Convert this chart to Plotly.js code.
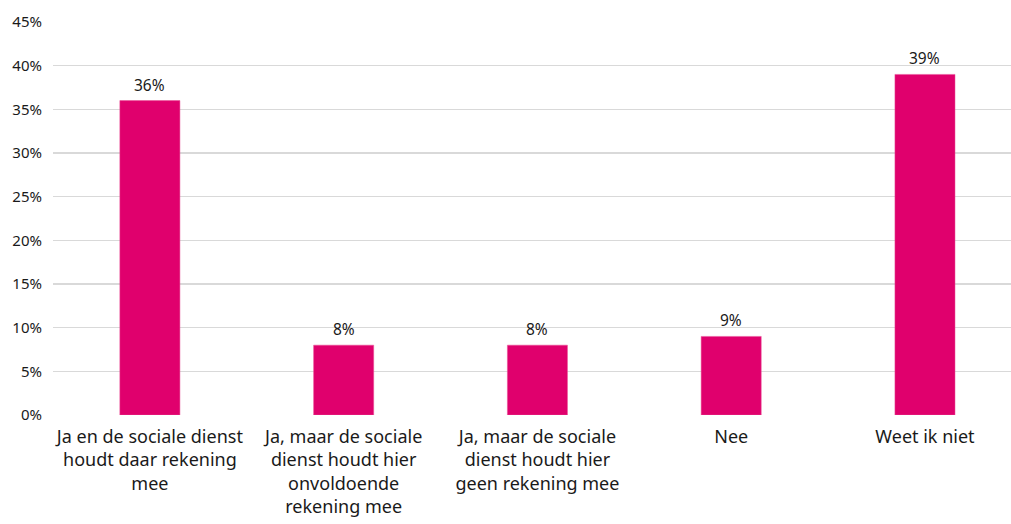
<!DOCTYPE html>
<html>
<head>
<meta charset="utf-8">
<script src="https://cdn.plot.ly/plotly-3.0.1.min.js"></script>
<style>html,body{margin:0;padding:0;background:#fff;}#chart{width:1011px;height:524px;}</style>
</head>
<body>
<div id="chart"></div>
<script>
const categories = [
  "Ja en de sociale dienst<br>houdt daar rekening<br>mee",
  "Ja, maar de sociale<br>dienst houdt hier<br>onvoldoende<br>rekening mee",
  "Ja, maar de sociale<br>dienst houdt hier<br>geen rekening mee",
  "Nee",
  "Weet ik niet"
];
const values = [36, 8, 8, 9, 39];
const valueLabels = ["36%", "8%", "8%", "9%", "39%"];
const yTickValues = [0, 5, 10, 15, 20, 25, 30, 35, 40, 45];
const yTickLabels = ["0%", "5%", "10%", "15%", "20%", "25%", "30%", "35%", "40%", "45%"];

const FONT = "'Noto Sans', 'Open Sans', sans-serif";
const trace = {
  type: "bar",
  x: categories,
  y: values,
  width: 0.31,
  marker: {color: "#e0006d", line: {color: "#ea4f95", width: 0.5}},
  hoverinfo: "none"
};
const annotations = categories.map((c, i) => ({
  x: c, y: values[i], text: valueLabels[i], showarrow: false,
  yanchor: "bottom", yshift: 3,
  font: {family: FONT, size: 15.5, color: "#1a1a1a"}
}));
const layout = {
  width: 1011, height: 524,
  margin: {l: 53, r: 0, t: 22, b: 109},
  paper_bgcolor: "#fff", plot_bgcolor: "#fff",
  showlegend: false,
  font: {family: FONT, color: "#1a1a1a"},
  xaxis: {
    range: [-0.5, 4.444], fixedrange: true,
    showgrid: false, zeroline: false, showline: false, ticks: "",
    ticklabelstandoff: 9,
    tickfont: {family: FONT, size: 18, color: "#1a1a1a"}
  },
  yaxis: {
    range: [0, 45], tickvals: yTickValues, ticktext: yTickLabels,
    showgrid: true, gridcolor: "#d9d9d9", gridwidth: 1.3,
    zeroline: false, showline: false, ticks: "", ticklabelstandoff: 10,
    tickfont: {family: FONT, size: 15, color: "#1a1a1a"}
  },
  annotations: annotations
};
Plotly.newPlot("chart", [trace], layout, {displayModeBar: false, staticPlot: true});
</script>
</body>
</html>
